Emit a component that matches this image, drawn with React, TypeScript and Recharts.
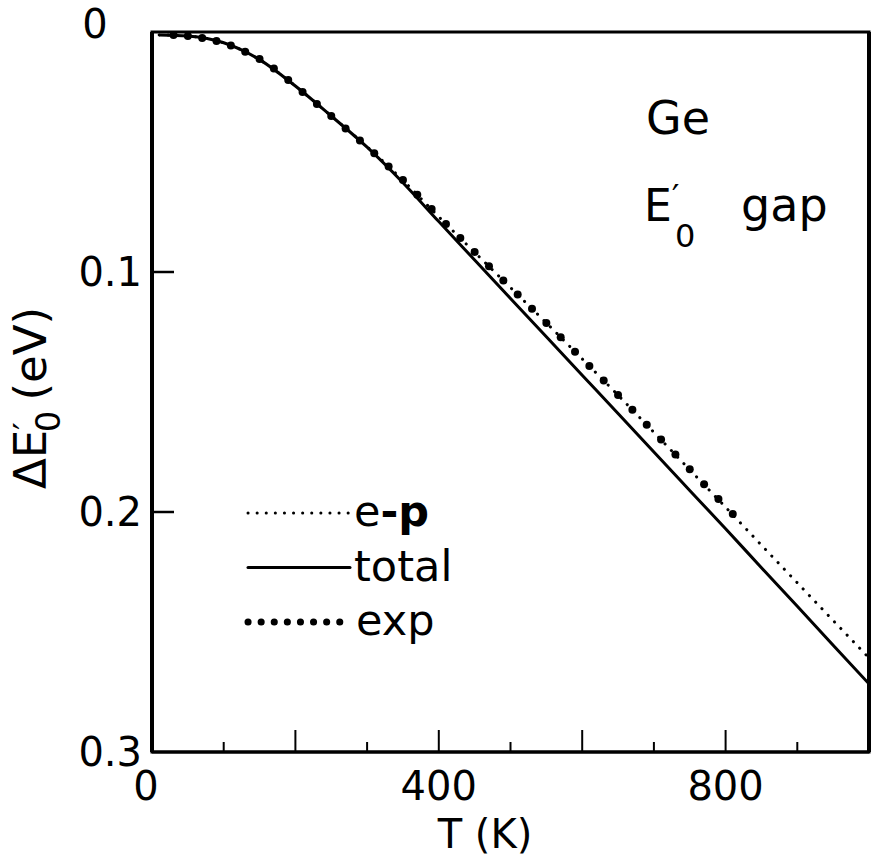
import {
  ComposedChart,
  Customized,
  Legend,
  Line,
  ReferenceArea,
  XAxis,
  YAxis,
} from "recharts";

const INK = "#000";
const FONT = "'DejaVu Sans', sans-serif";

// temperature grid for the two calculated curves (K)
const T_CALC = [
  10, 50, 100, 150, 200, 250, 300, 350, 400, 450, 500, 550, 600, 650, 700,
  750, 800, 850, 900, 950, 1000,
];
// total shift (eV)
const TOTAL = [
  0.0012, 0.0017, 0.0045, 0.0115, 0.0225, 0.035, 0.048, 0.0628, 0.079, 0.095,
  0.111, 0.127, 0.143, 0.159, 0.175, 0.191, 0.207, 0.2232, 0.2393, 0.2555,
  0.2716,
];
// electron-phonon part (eV)
const EP = [
  0.0012, 0.0017, 0.0045, 0.0115, 0.0225, 0.035, 0.0478, 0.0618, 0.077,
  0.0918, 0.1065, 0.1212, 0.1362, 0.1513, 0.1668, 0.1824, 0.198, 0.2138,
  0.2295, 0.2452, 0.2608,
];

// experimental points
const T_EXP = [
  30, 50, 70, 90, 110, 130, 150, 170, 190, 210, 230, 250, 270, 290, 310, 330,
  350, 370, 390, 410, 430, 450, 470, 490, 510, 530, 550, 570, 590, 610, 630,
  650, 670, 690, 710, 730, 750, 770, 790, 810,
];
const EXP = [
  0.0013, 0.0017, 0.0025, 0.0038, 0.0056, 0.0082, 0.0113, 0.0152, 0.02, 0.025,
  0.03, 0.035, 0.0402, 0.0452, 0.0505, 0.056, 0.0617, 0.0678, 0.0738, 0.08,
  0.0858, 0.0917, 0.0976, 0.1035, 0.1094, 0.1153, 0.1212, 0.1272, 0.1332,
  0.1392, 0.1452, 0.1512, 0.1574, 0.1636, 0.1698, 0.176, 0.1822, 0.1884,
  0.1946, 0.2008,
];

const X_TICKS = [0, 100, 200, 300, 400, 500, 600, 700, 800, 900, 1000];
const X_LABELS = [0, 400, 800];
const Y_TICKS = [0, 0.1, 0.2, 0.3];
const LEGEND_ORDER = ["ep", "total", "exp"];

const calcData = T_CALC.map((t, i) => ({ t, total: TOTAL[i], ep: EP[i] }));
const expData = T_EXP.map((t, i) => ({ t, exp: EXP[i] }));

const LEGEND_STYLE: Record<string, { dash?: string; width: number }> = {
  ep: { dash: "0.1 9", width: 3 },
  total: { width: 3 },
  exp: { dash: "0.1 13", width: 7 },
};

function XTick({ x, y, payload }: any) {
  const v = payload.value;
  const major = v % 200 === 0;
  return (
    <g>
      {v > 0 && v < 1000 && (
        <line x1={x} x2={x} y1={y} y2={y - (major ? 22 : 10)} stroke={INK} strokeWidth={2} />
      )}
      {X_LABELS.includes(v) && (
        <text x={v === 0 ? x - 6 : x} y={y + 48} textAnchor="middle" fontFamily={FONT} fontSize={40} fill={INK}>
          {v}
        </text>
      )}
    </g>
  );
}

function YTickLeft({ x, y, payload }: any) {
  const v = payload.value;
  const inner = v > 0 && v < 0.3;
  return (
    <g>
      {inner && <line x1={x} x2={x + 22} y1={y} y2={y} stroke={INK} strokeWidth={2.5} />}
      <text
        x={v === 0 ? x - 57 : x - 10}
        y={v === 0 ? y - 8 : y}
        textAnchor={v === 0 ? "middle" : "end"}
        dominantBaseline="central"
        fontFamily={FONT}
        fontSize={40}
        fill={INK}
      >
        {v === 0 ? "0" : v.toFixed(1)}
      </text>
    </g>
  );
}

function YTickRight({ x, y, payload }: any) {
  const v = payload.value;
  if (v >= 0.3) return <g />;
  return <line x1={x} x2={x - 22} y1={y} y2={y} stroke={INK} strokeWidth={2.5} />;
}

function LegendBox({ payload }: any) {
  const rows = [...((payload || []) as any[])].sort(
    (a, b) => LEGEND_ORDER.indexOf(String(a.dataKey)) - LEGEND_ORDER.indexOf(String(b.dataKey))
  );
  return (
    <svg width={260} height={160} style={{ overflow: "visible" }}>
      {rows.map((p, i) => {
        const key = String(p.dataKey);
        const st = LEGEND_STYLE[key] || { width: 3 };
        const cy = 23 + i * 54.5;
        return (
          <g key={key}>
            <line
              x1={4}
              x2={key === "exp" ? 100 : 106}
              y1={cy}
              y2={cy}
              stroke={INK}
              strokeWidth={st.width}
              strokeDasharray={st.dash}
              strokeLinecap="round"
            />
            <text x={key === "exp" ? 112 : 110} y={cy + 13} fontFamily={FONT} fontSize={43} fill={INK}>
              {key === "ep" ? (
                <>
                  e<tspan fontWeight="bold">-p</tspan>
                </>
              ) : (
                p.value
              )}
            </text>
          </g>
        );
      })}
    </svg>
  );
}

function Annotations() {
  return (
    <g fontFamily={FONT} fill={INK}>
      <text x={646} y={134} fontSize={46}>
        Ge
      </text>
      <text x={644} y={221} fontSize={44}>
        E<tspan dy={-12} fontSize={34}>′</tspan>
      </text>
      <text x={675} y={247} fontSize={32}>
        0
      </text>
      <text x={741} y={221} fontSize={46}>
        gap
      </text>
      <text x={485} y={848} textAnchor="middle" fontSize={40}>
        T (K)
      </text>
      <text transform="rotate(-90 46 398)" x={46} y={398} textAnchor="middle" fontSize={45}>
        ΔE<tspan dy={-8} fontSize={34}>′</tspan>
        <tspan dx={-10} dy={22} fontSize={34}>0</tspan>
        <tspan dx={10} dy={-14}>(eV)</tspan>
      </text>
    </g>
  );
}

export default function App() {
  return (
    <div style={{ position: "absolute", left: 0, top: 0, background: "#fff" }}>
      <ComposedChart width={882} height={861} margin={{ top: 32, right: 0, bottom: 0, left: 0 }}>
        <XAxis
          type="number"
          dataKey="t"
          domain={[0, 1000]}
          ticks={X_TICKS}
          interval={0}
          height={109}
          tickLine={false}
          tickSize={0}
          tickMargin={0}
          tick={<XTick />}
          axisLine={{ stroke: INK, strokeWidth: 3 }}
          allowDataOverflow
        />
        <YAxis
          yAxisId="left"
          type="number"
          domain={[0, 0.3]}
          reversed
          ticks={Y_TICKS}
          interval={0}
          width={152}
          tickLine={false}
          tickSize={0}
          tickMargin={0}
          tick={<YTickLeft />}
          axisLine={{ stroke: INK, strokeWidth: 4 }}
          allowDataOverflow
        />
        <YAxis
          yAxisId="right"
          orientation="right"
          type="number"
          domain={[0, 0.3]}
          reversed
          ticks={Y_TICKS}
          interval={0}
          width={13}
          tickLine={false}
          tickSize={0}
          tickMargin={0}
          tick={<YTickRight />}
          axisLine={{ stroke: INK, strokeWidth: 4 }}
        />
        <ReferenceArea
          yAxisId="left"
          x1={0}
          x2={1000}
          y1={0}
          y2={0.3}
          fill="none"
          fillOpacity={0}
          stroke={INK}
          strokeWidth={3}
          ifOverflow="visible"
        />
        <Line
          yAxisId="left"
          data={calcData}
          dataKey="ep"
          name="e-p"
          type="monotone"
          stroke={INK}
          strokeWidth={3}
          strokeDasharray="0.1 9"
          strokeLinecap="round"
          dot={false}
          isAnimationActive={false}
        />
        <Line
          yAxisId="left"
          data={calcData}
          dataKey="total"
          name="total"
          type="monotone"
          stroke={INK}
          strokeWidth={3}
          dot={false}
          isAnimationActive={false}
        />
        <Line
          yAxisId="left"
          data={expData}
          dataKey="exp"
          name="exp"
          stroke="none"
          dot={{ r: 4, fill: INK, stroke: "none" }}
          isAnimationActive={false}
        />
        <Legend
          layout="vertical"
          align="center"
          verticalAlign="middle"
          content={<LegendBox />}
          wrapperStyle={{ position: "absolute", left: 244, top: 490, width: 260 }}
        />
        <Customized component={<Annotations />} />
      </ComposedChart>
    </div>
  );
}
